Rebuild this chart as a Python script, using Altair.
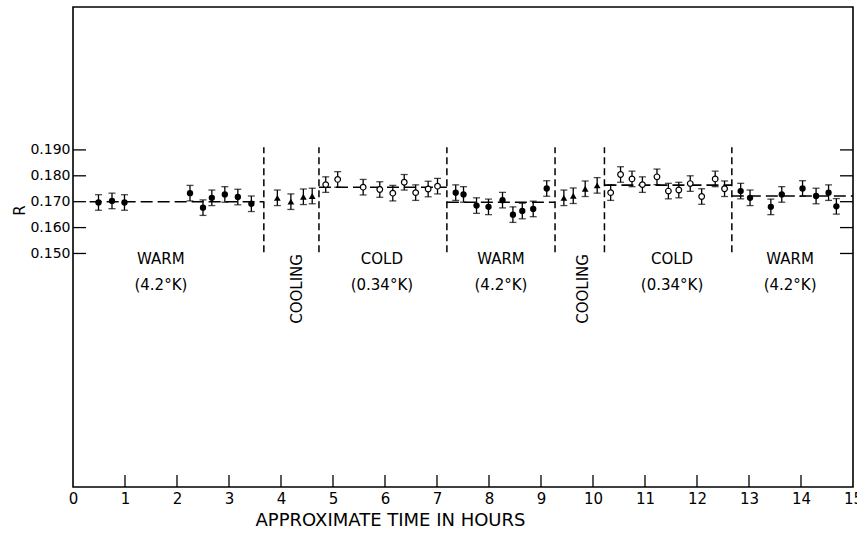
import altair as alt
import pandas as pd

# ---- data (hours, R) ----
warm_t = [0.49, 0.75, 0.99, 2.25, 2.50, 2.67, 2.92, 3.17, 3.43,
          7.36, 7.51, 7.76, 7.99, 8.26, 8.46, 8.64, 8.85, 9.11,
          12.84, 13.02, 13.42, 13.63, 14.03, 14.29, 14.53, 14.68]
warm_r = [0.1697, 0.1703, 0.1697, 0.1733, 0.1677, 0.1715, 0.1728, 0.1718, 0.1692,
          0.1735, 0.1728, 0.1685, 0.1680, 0.1706, 0.1650, 0.1664, 0.1672, 0.1751,
          0.1741, 0.1715, 0.1680, 0.1728, 0.1751, 0.1722, 0.1735, 0.1682]

cold_t = [4.86, 5.09, 5.58, 5.90, 6.15, 6.37, 6.59, 6.83, 7.01,
          10.34, 10.53, 10.75, 10.95, 11.23, 11.45, 11.65, 11.87, 12.09, 12.35, 12.53]
cold_r = [0.1766, 0.1786, 0.1756, 0.1747, 0.1733, 0.1775, 0.1735, 0.1749, 0.1760,
          0.1735, 0.1805, 0.1788, 0.1766, 0.1796, 0.1741, 0.1745, 0.1770, 0.1720, 0.1788, 0.1750]

cool_t = [3.93, 4.19, 4.43, 4.60, 9.44, 9.62, 9.85, 10.08]
cool_r = [0.1715, 0.1700, 0.1719, 0.1722, 0.1715, 0.1723, 0.1750, 0.1763]

err = 0.003

# segment mean lines
mean_t0 = [0.32, 4.73, 7.19, 10.22, 12.67]
mean_t1 = [3.67, 7.19, 9.27, 12.67, 15.0]
mean_r = [0.1700, 0.1756, 0.1698, 0.1764, 0.1722]

# phase boundaries
bound_t = [3.67, 4.73, 7.19, 9.27, 10.22, 12.67]
bound_r0 = 0.1505
bound_r1 = 0.1910

# phase labels
lab_text = ["WARM", "(4.2°K)", "COLD", "(0.34°K)", "WARM", "(4.2°K)",
            "COLD", "(0.34°K)", "WARM", "(4.2°K)"]
lab_t = [1.69, 1.69, 5.94, 5.94, 8.23, 8.23, 11.52, 11.52, 13.79, 13.79]
lab_r = [0.1479, 0.1378] * 5
cool_lab_t = [4.31, 9.81]
cool_lab_r = [0.1363, 0.1363]

x_ticks = list(range(1, 15))
y_ticks = [0.150, 0.160, 0.170, 0.180, 0.190]

W, H = 780, 480
FONT = "DejaVu Sans"

xs = alt.Scale(domain=[0, 15], nice=False, zero=False)
ys = alt.Scale(domain=[0.0598, 0.2452], nice=False, zero=False)

X = alt.X("t:Q", scale=xs, axis=alt.Axis(
    values=list(range(0, 16)), format="d", ticks=False, domain=False, grid=False,
    labelFont=FONT, labelFontSize=15, labelColor="black", labelPadding=4,
    labelFlush=False,
    title="APPROXIMATE TIME IN HOURS", titleFont=FONT, titleFontSize=18,
    titleFontWeight="normal", titleColor="black", titleX=317, titleY=33,
    titleAlign="center", titleBaseline="middle"))
Y = alt.Y("r:Q", scale=ys, axis=alt.Axis(
    values=y_ticks, format=".3f", ticks=False, domain=False, grid=False,
    labelFont=FONT, labelFontSize=14, labelColor="black", labelPadding=3,
    title="R", titleFont=FONT, titleFontSize=15, titleFontWeight="normal",
    titleColor="black", titleX=-54, titleY=203, titleAngle=270,
    titleAlign="center", titleBaseline="middle"))

def pts(ts, rs):
    return pd.DataFrame({"t": ts, "r": rs,
                         "lo": [v - err for v in rs], "hi": [v + err for v in rs]})

dw, dc, dl = pts(warm_t, warm_r), pts(cold_t, cold_r), pts(cool_t, cool_r)
allp = pd.concat([dw, dc, dl])

base = alt.Chart(allp)
bars = base.mark_rule(color="black", strokeWidth=1.3).encode(x=X, y=alt.Y("lo:Q", scale=ys), y2="hi:Q")
cap_lo = base.mark_tick(orient="horizontal", size=7, thickness=1.3, color="black").encode(
    x=X, y=alt.Y("lo:Q", scale=ys))
cap_hi = base.mark_tick(orient="horizontal", size=7, thickness=1.3, color="black").encode(
    x=X, y=alt.Y("hi:Q", scale=ys))

means = alt.Chart(pd.DataFrame({"t": mean_t0, "t1": mean_t1, "r": mean_r})).mark_rule(
    color="black", strokeWidth=1.6, strokeDash=[12, 5]).encode(x=X, x2="t1:Q", y=Y)

bounds = alt.Chart(pd.DataFrame({"t": bound_t, "r": [bound_r0] * len(bound_t),
                                 "r1": [bound_r1] * len(bound_t)})).mark_rule(
    color="black", strokeWidth=1.5, strokeDash=[7, 4]).encode(x=X, y=Y, y2="r1:Q")

warm_pts = alt.Chart(dw).mark_point(shape="circle", filled=True, size=40, color="black", opacity=1).encode(x=X, y=Y)
cold_pts = alt.Chart(dc).mark_point(shape="circle", filled=False, size=32, color="black",
                                   fill="white", fillOpacity=1, strokeWidth=1.2, opacity=1).encode(x=X, y=Y)
cool_pts = alt.Chart(dl).mark_point(shape="triangle-up", filled=True, size=45, color="black", opacity=1).encode(x=X, y=Y)

labels = alt.Chart(pd.DataFrame({"t": lab_t, "r": lab_r, "s": lab_text})).mark_text(
    font=FONT, fontSize=15, color="black", align="center", baseline="middle").encode(x=X, y=Y, text="s:N")
cool_labels = alt.Chart(pd.DataFrame({"t": cool_lab_t, "r": cool_lab_r, "s": ["COOLING"] * 2})).mark_text(
    font=FONT, fontSize=15, color="black", align="center", baseline="middle", angle=270).encode(
    x=X, y=Y, text="s:N")

xt = alt.Chart(pd.DataFrame({"t": x_ticks})).mark_rule(color="black", strokeWidth=1.3).encode(
    x=X, y=alt.value(H), y2=alt.value(H - 12))
ytl = alt.Chart(pd.DataFrame({"r": y_ticks})).mark_rule(color="black", strokeWidth=1.3).encode(
    y=Y, x=alt.value(0), x2=alt.value(13))
ytr = alt.Chart(pd.DataFrame({"r": y_ticks})).mark_rule(color="black", strokeWidth=1.3).encode(
    y=Y, x=alt.value(W - 13), x2=alt.value(W))

chart = alt.layer(
    means, bounds, bars, cap_lo, cap_hi, warm_pts, cold_pts, cool_pts,
    labels, cool_labels, xt, ytl, ytr
).properties(
    width=W, height=H,
    autosize=alt.AutoSizeParams(type="none"),
    padding={"left": 73, "top": 7, "right": 4, "bottom": 46},
    background="white",
).configure_view(stroke="black", strokeWidth=1.6)

chart.save("out.html", embed_options={"renderer": "svg", "actions": False})
